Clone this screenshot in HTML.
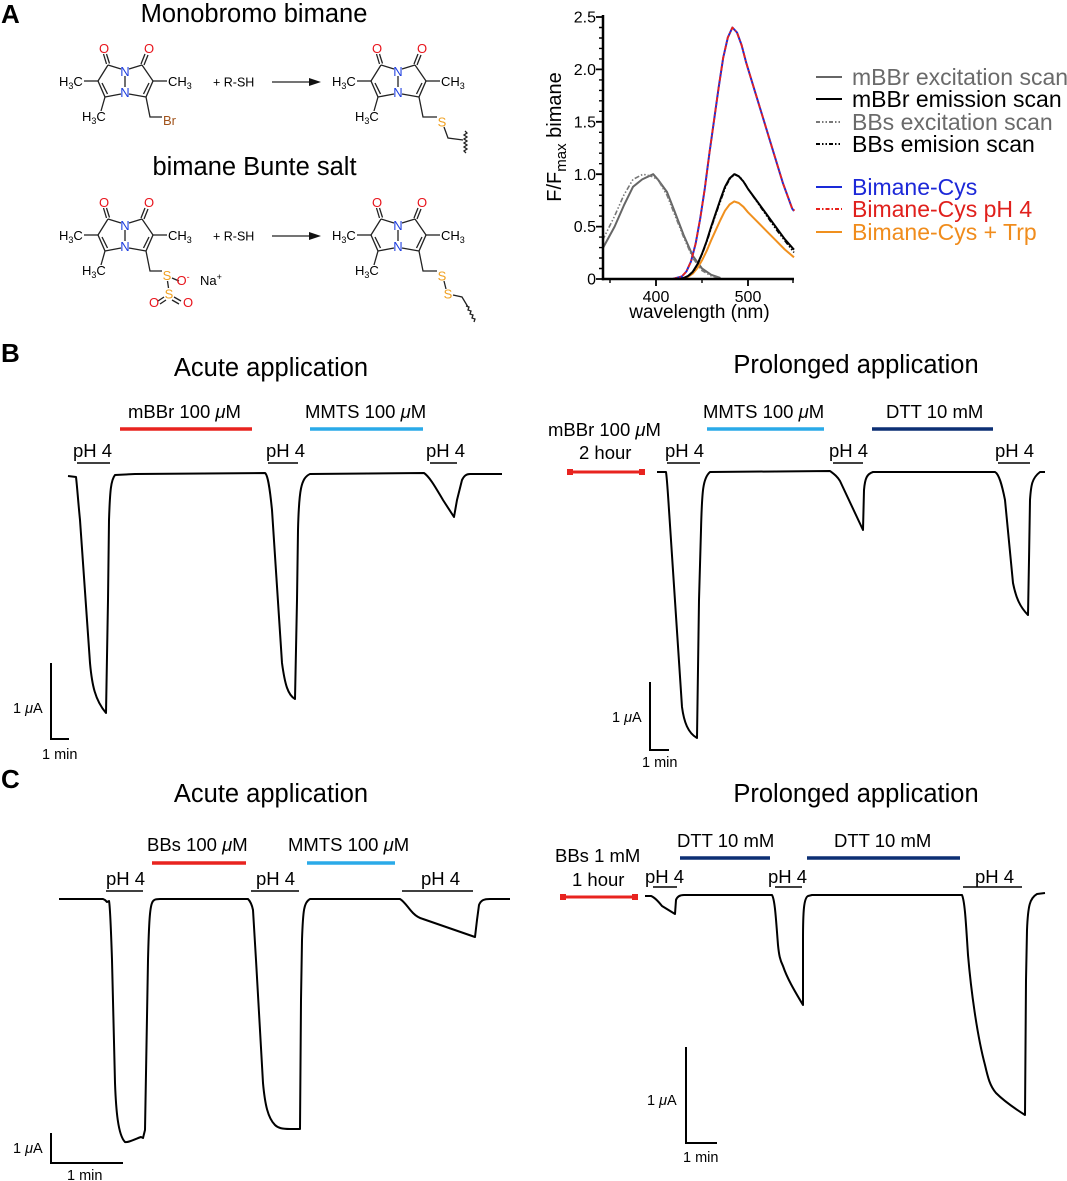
<!DOCTYPE html>
<html><head><meta charset="utf-8"><style>
html,body{margin:0;padding:0;background:#fff;}
svg{display:block;}
text{font-family:"Liberation Sans",Arial,sans-serif;}
</style></head><body>
<svg width="1067" height="1181" viewBox="0 0 1067 1181" xmlns="http://www.w3.org/2000/svg">
<rect width="1067" height="1181" fill="#fff"/>

<!-- Panel letters -->
<text x="1" y="23" font-size="26" font-weight="bold">A</text>
<text x="1" y="362" font-size="26" font-weight="bold">B</text>
<text x="1" y="788" font-size="26" font-weight="bold">C</text>

<!-- ===== Panel A chemistry ===== -->
<text x="254" y="22" font-size="25.5" text-anchor="middle">Monobromo bimane</text>
<text x="254.5" y="175" font-size="25.5" text-anchor="middle">bimane Bunte salt</text>

<g>
<g stroke="#222" stroke-width="1.3" fill="none">
<line x1="125" y1="76" x2="125" y2="87"/>
<line x1="121" y1="69" x2="108" y2="65"/>
<line x1="129" y1="69" x2="142" y2="65"/>
<line x1="108" y1="65" x2="98" y2="81"/>
<line x1="98" y1="81" x2="105" y2="97"/>
<line x1="102" y1="83" x2="107.5" y2="94"/>
<line x1="105" y1="97" x2="121" y2="94"/>
<line x1="142" y1="65" x2="153" y2="81"/>
<line x1="153" y1="81" x2="146" y2="97"/>
<line x1="149" y1="83" x2="143.5" y2="94"/>
<line x1="146" y1="97" x2="129" y2="94"/>
<line x1="106.5" y1="64" x2="103.5" y2="54"/>
<line x1="109.5" y1="63.5" x2="106.5" y2="54"/>
<line x1="141" y1="64" x2="145" y2="54"/>
<line x1="144" y1="65" x2="148" y2="55"/>
<line x1="98" y1="81" x2="84" y2="81"/>
<line x1="153" y1="81" x2="167" y2="81"/>
<line x1="105" y1="97" x2="101" y2="111"/>
</g>
<text x="104" y="53" font-size="13" fill="#e8141c" text-anchor="middle">O</text>
<text x="149" y="53" font-size="13" fill="#e8141c" text-anchor="middle">O</text>
<text x="125" y="76" font-size="13" fill="#1f3fe0" text-anchor="middle">N</text>
<text x="125" y="97" font-size="13" fill="#1f3fe0" text-anchor="middle">N</text>
<text x="59" y="86" font-size="13">H<tspan font-size="9" dy="3">3</tspan><tspan dy="-3">C</tspan></text>
<text x="168" y="86" font-size="13">CH<tspan font-size="9" dy="3">3</tspan></text>
<text x="82" y="121" font-size="13">H<tspan font-size="9" dy="3">3</tspan><tspan dy="-3">C</tspan></text>
</g>

<g transform="translate(273,0)">
<g stroke="#222" stroke-width="1.3" fill="none">
<line x1="125" y1="76" x2="125" y2="87"/>
<line x1="121" y1="69" x2="108" y2="65"/>
<line x1="129" y1="69" x2="142" y2="65"/>
<line x1="108" y1="65" x2="98" y2="81"/>
<line x1="98" y1="81" x2="105" y2="97"/>
<line x1="102" y1="83" x2="107.5" y2="94"/>
<line x1="105" y1="97" x2="121" y2="94"/>
<line x1="142" y1="65" x2="153" y2="81"/>
<line x1="153" y1="81" x2="146" y2="97"/>
<line x1="149" y1="83" x2="143.5" y2="94"/>
<line x1="146" y1="97" x2="129" y2="94"/>
<line x1="106.5" y1="64" x2="103.5" y2="54"/>
<line x1="109.5" y1="63.5" x2="106.5" y2="54"/>
<line x1="141" y1="64" x2="145" y2="54"/>
<line x1="144" y1="65" x2="148" y2="55"/>
<line x1="98" y1="81" x2="84" y2="81"/>
<line x1="153" y1="81" x2="167" y2="81"/>
<line x1="105" y1="97" x2="101" y2="111"/>
</g>
<text x="104" y="53" font-size="13" fill="#e8141c" text-anchor="middle">O</text>
<text x="149" y="53" font-size="13" fill="#e8141c" text-anchor="middle">O</text>
<text x="125" y="76" font-size="13" fill="#1f3fe0" text-anchor="middle">N</text>
<text x="125" y="97" font-size="13" fill="#1f3fe0" text-anchor="middle">N</text>
<text x="59" y="86" font-size="13">H<tspan font-size="9" dy="3">3</tspan><tspan dy="-3">C</tspan></text>
<text x="168" y="86" font-size="13">CH<tspan font-size="9" dy="3">3</tspan></text>
<text x="82" y="121" font-size="13">H<tspan font-size="9" dy="3">3</tspan><tspan dy="-3">C</tspan></text>
</g>

<g transform="translate(0,154)">
<g stroke="#222" stroke-width="1.3" fill="none">
<line x1="125" y1="76" x2="125" y2="87"/>
<line x1="121" y1="69" x2="108" y2="65"/>
<line x1="129" y1="69" x2="142" y2="65"/>
<line x1="108" y1="65" x2="98" y2="81"/>
<line x1="98" y1="81" x2="105" y2="97"/>
<line x1="102" y1="83" x2="107.5" y2="94"/>
<line x1="105" y1="97" x2="121" y2="94"/>
<line x1="142" y1="65" x2="153" y2="81"/>
<line x1="153" y1="81" x2="146" y2="97"/>
<line x1="149" y1="83" x2="143.5" y2="94"/>
<line x1="146" y1="97" x2="129" y2="94"/>
<line x1="106.5" y1="64" x2="103.5" y2="54"/>
<line x1="109.5" y1="63.5" x2="106.5" y2="54"/>
<line x1="141" y1="64" x2="145" y2="54"/>
<line x1="144" y1="65" x2="148" y2="55"/>
<line x1="98" y1="81" x2="84" y2="81"/>
<line x1="153" y1="81" x2="167" y2="81"/>
<line x1="105" y1="97" x2="101" y2="111"/>
</g>
<text x="104" y="53" font-size="13" fill="#e8141c" text-anchor="middle">O</text>
<text x="149" y="53" font-size="13" fill="#e8141c" text-anchor="middle">O</text>
<text x="125" y="76" font-size="13" fill="#1f3fe0" text-anchor="middle">N</text>
<text x="125" y="97" font-size="13" fill="#1f3fe0" text-anchor="middle">N</text>
<text x="59" y="86" font-size="13">H<tspan font-size="9" dy="3">3</tspan><tspan dy="-3">C</tspan></text>
<text x="168" y="86" font-size="13">CH<tspan font-size="9" dy="3">3</tspan></text>
<text x="82" y="121" font-size="13">H<tspan font-size="9" dy="3">3</tspan><tspan dy="-3">C</tspan></text>
</g>

<g transform="translate(273,154)">
<g stroke="#222" stroke-width="1.3" fill="none">
<line x1="125" y1="76" x2="125" y2="87"/>
<line x1="121" y1="69" x2="108" y2="65"/>
<line x1="129" y1="69" x2="142" y2="65"/>
<line x1="108" y1="65" x2="98" y2="81"/>
<line x1="98" y1="81" x2="105" y2="97"/>
<line x1="102" y1="83" x2="107.5" y2="94"/>
<line x1="105" y1="97" x2="121" y2="94"/>
<line x1="142" y1="65" x2="153" y2="81"/>
<line x1="153" y1="81" x2="146" y2="97"/>
<line x1="149" y1="83" x2="143.5" y2="94"/>
<line x1="146" y1="97" x2="129" y2="94"/>
<line x1="106.5" y1="64" x2="103.5" y2="54"/>
<line x1="109.5" y1="63.5" x2="106.5" y2="54"/>
<line x1="141" y1="64" x2="145" y2="54"/>
<line x1="144" y1="65" x2="148" y2="55"/>
<line x1="98" y1="81" x2="84" y2="81"/>
<line x1="153" y1="81" x2="167" y2="81"/>
<line x1="105" y1="97" x2="101" y2="111"/>
</g>
<text x="104" y="53" font-size="13" fill="#e8141c" text-anchor="middle">O</text>
<text x="149" y="53" font-size="13" fill="#e8141c" text-anchor="middle">O</text>
<text x="125" y="76" font-size="13" fill="#1f3fe0" text-anchor="middle">N</text>
<text x="125" y="97" font-size="13" fill="#1f3fe0" text-anchor="middle">N</text>
<text x="59" y="86" font-size="13">H<tspan font-size="9" dy="3">3</tspan><tspan dy="-3">C</tspan></text>
<text x="168" y="86" font-size="13">CH<tspan font-size="9" dy="3">3</tspan></text>
<text x="82" y="121" font-size="13">H<tspan font-size="9" dy="3">3</tspan><tspan dy="-3">C</tspan></text>
</g>

<g stroke="#222" stroke-width="1.3" fill="none">
<polyline points="146,97 150,117 162,117"/>
<polyline points="419,97 423,117 437,117"/>
<polyline points="444,127 448,138 463,140"/>
<path d="M465,131 l2,2 l-3,2 l3,2 l-3,2 l3,2 l-3,2 l3,2 l-3,2 l3,2 l-3,2 l2,2"/>
<polyline points="146,251 150,271 162,271"/>
<line x1="172" y1="278" x2="179" y2="281"/>
<line x1="167.5" y1="281" x2="168.5" y2="288"/>
<line x1="164" y1="297" x2="158" y2="301"/>
<line x1="166" y1="300" x2="160" y2="304"/>
<line x1="174" y1="297" x2="181" y2="301"/>
<line x1="172" y1="300" x2="179" y2="304"/>
<polyline points="419,251 423,271 437,271"/>
<line x1="444" y1="281" x2="446" y2="289"/>
<polyline points="453,295 462,297 468,307"/>
<path d="M466,306 l3,1 l-1,3 l3,1 l-1,3 l3,1 l-1,3 l3,1 l-1,3"/>
</g>
<text x="163" y="125" font-size="13" fill="#a0521a">Br</text>
<text x="442" y="126.5" font-size="13" fill="#f0a020" text-anchor="middle">S</text>
<text x="167" y="280" font-size="13" fill="#f0a020" text-anchor="middle">S</text>
<text x="183" y="285" font-size="13" fill="#e8141c" text-anchor="middle">O<tspan font-size="9" dy="-5">-</tspan></text>
<text x="169" y="298.5" font-size="13" fill="#f0a020" text-anchor="middle">S</text>
<text x="154" y="307" font-size="13" fill="#e8141c" text-anchor="middle">O</text>
<text x="188" y="307" font-size="13" fill="#e8141c" text-anchor="middle">O</text>
<text x="200" y="285" font-size="13">Na<tspan font-size="9" dy="-5">+</tspan></text>
<text x="442" y="280.5" font-size="13" fill="#f0a020" text-anchor="middle">S</text>
<text x="448" y="298.5" font-size="13" fill="#f0a020" text-anchor="middle">S</text>

<text x="213" y="86.5" font-size="12.5">+ R-SH</text>
<text x="213" y="240.5" font-size="12.5">+ R-SH</text>
<line x1="272" y1="82" x2="312" y2="82" stroke="#222" stroke-width="1.3"/>
<polygon points="309,78 321,82 309,86" fill="#111"/>
<line x1="272" y1="236" x2="312" y2="236" stroke="#222" stroke-width="1.3"/>
<polygon points="309,232 321,236 309,240" fill="#111"/>

<!-- ===== Spectrum chart ===== -->
<g fill="none" stroke-linejoin="round">
<polyline stroke="#666" stroke-width="2" points="602.6,248.6 614.6,226.6 623.8,205.6 633,186.8 642.2,179.4 653.2,174.2 657.8,179.4 667,192 674.4,210.9 683.6,235 692.8,255.9 702,268.5 711.2,274.8 720.4,278"/>
<polyline stroke="#777" stroke-width="1.6" stroke-dasharray="5,2,1.5,2,1.5,2" points="602.6,240.2 614.6,216.1 623.8,195.2 633,179.4 643.1,174.2 651.4,176.3 657.8,179.4 667,195.2 674.4,214 683.6,237.1 692.8,258 702,270.6 711.2,275.9 720.4,278.5"/>
<polyline stroke="#f0901e" stroke-width="2" points="666,279 674.4,279 683.6,278.2 688.2,276.7 692.8,273.6 697.4,268.1 702,260.4 706.6,251.1 711.2,240.2 715.8,230.1 720.4,220 725,210.7 729.6,204.5 734.2,201.4 738.8,203 743.4,206.8 748,212.3 757.2,221.6 766.4,230.9 775.6,240.2 784.8,249.5 794,257.3"/>
<polyline stroke="#000" stroke-width="2" points="674.4,279 683.6,278 688.2,275.9 692.8,271.7 697.4,264.3 702,253.8 706.6,241.3 711.2,226.6 715.8,213 720.4,199.4 725,186.8 729.6,178.4 734.2,174.2 738.8,176.3 743.4,181.5 748,188.9 757.2,201.4 766.4,214 775.6,226.6 784.8,239.2 794,249.7"/>
<polyline stroke="#000" stroke-width="1.6" stroke-dasharray="5,2,1.5,2,1.5,2" points="676,279 684.6,278 689.2,275.5 693.8,271 698.4,263 703,252 707.6,239.5 712.2,225 716.8,211.5 721.4,198.5 726,186 730.6,178 735.2,174.2 739.8,176.8 744.4,182.5 749,190.5 758.2,203.5 767.4,217 776.6,230 785.8,242 794,252.5"/>
<polyline stroke="#1a2ad8" stroke-width="2" points="672.6,279 681.8,276.5 686.4,271.5 691,261.4 695.6,243.8 700.2,218.6 704.8,188.5 709.4,153.3 714,120.6 718.6,87.9 723.2,57.7 727.8,37.6 732.4,27.5 737,32.5 741.6,45.1 746.2,62.7 755.4,92.9 764.6,123.1 773.8,153.3 783,183.4 792.2,208.6 794,211"/>
<polyline stroke="#e8201a" stroke-width="1.8" stroke-dasharray="5,2,1.5,2" points="672.6,279 681.8,276.5 686.4,271.5 691,261.4 695.6,243.8 700.2,218.6 704.8,188.5 709.4,153.3 714,120.6 718.6,87.9 723.2,57.7 727.8,37.6 732.4,27.5 737,32.5 741.6,45.1 746.2,62.7 755.4,92.9 764.6,123.1 773.8,153.3 783,183.4 792.2,208.6 795,211"/>
</g>
<g stroke="#000" fill="none">
<line x1="603" y1="15" x2="603" y2="280.2" stroke-width="2.5"/>
<line x1="601.8" y1="279" x2="794" y2="279" stroke-width="2.5"/>
<path stroke-width="1.8" d="M596,279H603M596,226.6H603M596,174.2H603M596,121.8H603M596,69.4H603M596,17H603"/>
<path stroke-width="1.4" d="M599,268.5H603M599,258H603M599,247.6H603M599,237.1H603M599,216.1H603M599,205.6H603M599,195.2H603M599,184.7H603M599,163.7H603M599,153.2H603M599,142.8H603M599,132.3H603M599,111.3H603M599,100.8H603M599,90.4H603M599,79.9H603M599,58.9H603M599,48.4H603M599,38H603M599,27.5H603"/>
<path stroke-width="1.8" d="M656,279V286M748,279V286"/>
<path stroke-width="1.4" d="M610,279V283M702,279V283M793,279V283"/>
</g>
<g font-size="16" text-anchor="end">
<text x="596" y="22.5">2.5</text>
<text x="596" y="75">2.0</text>
<text x="596" y="127.5">1.5</text>
<text x="596" y="180">1.0</text>
<text x="596" y="232">0.5</text>
<text x="596" y="284.5">0</text>
</g>
<text x="656" y="302" font-size="16" text-anchor="middle">400</text>
<text x="748" y="302" font-size="16" text-anchor="middle">500</text>
<text x="699.5" y="318" font-size="19" text-anchor="middle">wavelength (nm)</text>
<text transform="translate(561,137) rotate(-90)" font-size="20" text-anchor="middle">F/F<tspan font-size="15" dy="5">max</tspan><tspan dy="-5"> bimane</tspan></text>

<g stroke-width="2" fill="none">
<line x1="816" y1="77" x2="842" y2="77" stroke="#666"/>
<line x1="816" y1="99" x2="842" y2="99" stroke="#000"/>
<line x1="816" y1="122" x2="842" y2="122" stroke="#777" stroke-dasharray="4,2,1.5,2,1.5,2"/>
<line x1="816" y1="144" x2="842" y2="144" stroke="#000" stroke-dasharray="4,2,1.5,2,1.5,2"/>
<line x1="816" y1="187" x2="842" y2="187" stroke="#1a2ad8"/>
<line x1="816" y1="209" x2="842" y2="209" stroke="#e8201a" stroke-dasharray="4,2,1.5,2"/>
<line x1="816" y1="232" x2="842" y2="232" stroke="#f0901e"/>
</g>
<g font-size="23">
<text x="852" y="85" fill="#6a6a6a">mBBr excitation scan</text>
<text x="852" y="107" fill="#000">mBBr emission scan</text>
<text x="852" y="130" fill="#6a6a6a">BBs excitation scan</text>
<text x="852" y="152" fill="#000">BBs emision scan</text>
<text x="852" y="195" fill="#1c28d8">Bimane-Cys</text>
<text x="852" y="217" fill="#e0201c">Bimane-Cys pH 4</text>
<text x="852" y="240" fill="#f08c1c">Bimane-Cys + Trp</text>
</g>

<!-- ===== Panel B ===== -->
<text x="271" y="376" font-size="25.5" text-anchor="middle">Acute application</text>
<text x="856" y="373" font-size="25.5" text-anchor="middle">Prolonged application</text>

<g font-size="18.5">
<text x="128" y="418">mBBr 100 <tspan font-style="italic">μ</tspan>M</text>
<text x="305" y="418">MMTS 100 <tspan font-style="italic">μ</tspan>M</text>
<text x="73" y="457">pH 4</text>
<text x="266" y="457">pH 4</text>
<text x="426" y="457">pH 4</text>
<text x="548" y="436">mBBr 100 <tspan font-style="italic">μ</tspan>M</text>
<text x="579" y="459">2 hour</text>
<text x="703" y="418">MMTS 100 <tspan font-style="italic">μ</tspan>M</text>
<text x="886" y="418">DTT 10 mM</text>
<text x="665" y="457">pH 4</text>
<text x="829" y="457">pH 4</text>
<text x="995" y="457">pH 4</text>
</g>
<g stroke-width="3.5">
<line x1="120" y1="429" x2="252" y2="429" stroke="#e8231f"/>
<line x1="310" y1="429" x2="423" y2="429" stroke="#2aaae8"/>
<line x1="707" y1="429" x2="824" y2="429" stroke="#2aaae8"/>
<line x1="872" y1="429" x2="993" y2="429" stroke="#0c2f74"/>
<line x1="570" y1="472" x2="642" y2="472" stroke="#e8231f" stroke-width="3"/>
</g>
<rect x="567" y="469" width="6" height="6" fill="#e8231f"/>
<rect x="639" y="469" width="6" height="6" fill="#e8231f"/>
<g stroke="#000" stroke-width="1.6">
<line x1="77" y1="463" x2="110" y2="463"/>
<line x1="268" y1="463" x2="298" y2="463"/>
<line x1="430" y1="463" x2="457" y2="463"/>
<line x1="667" y1="463" x2="700" y2="463"/>
<line x1="833" y1="463" x2="863" y2="463"/>
<line x1="998" y1="463" x2="1030" y2="463"/>
</g>

<g fill="none" stroke="#000" stroke-width="2" stroke-linejoin="round">
<path d="M68,476 L76,477 C77,485 78,500 80,520 L90,663 C92,685 95,700 106,713 L108,600 L109,520 C110,490 111,480 115,475 L135,474 L265,473 C268,475 270,490 272,510 L282,663 C285,685 288,695 295,699 L297,600 L298,530 C299,490 301,478 310,474 L424,473 C430,477 437,490 443,500 L454,517 L457,500 L462,480 C464,476 466,474 470,474 L502,474"/>
<path d="M657,472 L666,472 C667,478 668,495 669,510 L682,707 C684,722 688,733 697,738 L699,600 L701,530 C702,490 703,478 710,472 L830,471 C834,474 837,476 840,481 L863,530 L864,490 C865,478 867,474 873,472 L995,472 C999,474 1002,485 1005,500 L1013,583 C1016,598 1020,607 1028,615 L1029,560 L1030,500 C1031,485 1032,478 1040,472 L1045,472"/>
</g>
<g stroke="#000" stroke-width="2" fill="none">
<polyline points="51,663 51,739 69,739"/>
<polyline points="650,682 650,750 669,750"/>
</g>
<g font-size="14.5">
<text x="13" y="713">1 <tspan font-style="italic">μ</tspan>A</text>
<text x="42" y="759">1 min</text>
<text x="612" y="722">1 <tspan font-style="italic">μ</tspan>A</text>
<text x="642" y="767">1 min</text>
</g>

<!-- ===== Panel C ===== -->
<text x="271" y="802" font-size="25.5" text-anchor="middle">Acute application</text>
<text x="856" y="802" font-size="25.5" text-anchor="middle">Prolonged application</text>

<g font-size="18.5">
<text x="147" y="851">BBs 100 <tspan font-style="italic">μ</tspan>M</text>
<text x="288" y="851">MMTS 100 <tspan font-style="italic">μ</tspan>M</text>
<text x="106" y="885">pH 4</text>
<text x="256" y="885">pH 4</text>
<text x="421" y="885">pH 4</text>
<text x="677" y="847">DTT 10 mM</text>
<text x="834" y="847">DTT 10 mM</text>
<text x="555" y="862">BBs 1 mM</text>
<text x="572" y="886">1 hour</text>
<text x="645" y="883">pH 4</text>
<text x="768" y="883">pH 4</text>
<text x="975" y="883">pH 4</text>
</g>
<g stroke-width="3.5">
<line x1="152" y1="863" x2="246" y2="863" stroke="#e8231f"/>
<line x1="307" y1="863" x2="395" y2="863" stroke="#2aaae8"/>
<line x1="680" y1="858" x2="770" y2="858" stroke="#0c2f74"/>
<line x1="807" y1="858" x2="960" y2="858" stroke="#0c2f74"/>
<line x1="563" y1="897" x2="635" y2="897" stroke="#e8231f" stroke-width="3"/>
</g>
<rect x="560" y="894" width="6" height="6" fill="#e8231f"/>
<rect x="632" y="894" width="6" height="6" fill="#e8231f"/>
<g stroke="#000" stroke-width="1.6">
<line x1="106" y1="891" x2="143" y2="891"/>
<line x1="251" y1="891" x2="299" y2="891"/>
<line x1="402" y1="891" x2="473" y2="891"/>
<line x1="653" y1="887" x2="677" y2="887"/>
<line x1="775" y1="887" x2="802" y2="887"/>
<line x1="963" y1="887" x2="1022" y2="887"/>
</g>

<g fill="none" stroke="#000" stroke-width="2" stroke-linejoin="round">
<path d="M59,899 L103,899 L105,900 L107,902 L109,901 C110,905 111,930 112,960 L115,1083 C116,1110 118,1135 125,1142 C128,1143 135,1139 141,1137 L143,1138 L145,1130 L148,960 C149,920 150,908 152,903 C153,900 155,899 160,899 L248,899 C250,901 252,905 253,910 L256,960 L263,1083 C265,1105 268,1118 275,1125 C278,1128 282,1129 290,1129 L300,1129 L301,1000 L302,940 C303,910 304,902 310,899 L400,899 C405,902 408,908 413,913 C416,916 419,918 423,919 L475,937 L477,920 L479,905 C481,900 484,899 490,899 L510,899"/>
<path d="M645,896 L651,896 C654,897 658,901 662,906 L675,914 L676,900 C677,897 679,895 684,895 L772,895 C775,900 776,920 778,945 C779,955 780,960 783,966 C787,978 794,990 803,1005 L803,940 C803,910 804,898 808,896 L812,895 L962,895 C965,902 966,925 968,955 C971,990 977,1035 985,1065 C988,1078 990,1086 996,1093 C1004,1101 1014,1108 1025,1115 L1026,980 L1027,930 C1028,905 1030,898 1037,894 L1045,893"/>
</g>
<g stroke="#000" stroke-width="2" fill="none">
<polyline points="51,1133 51,1163 123,1163"/>
<polyline points="686,1047 686,1143 717,1143"/>
</g>
<g font-size="14.5">
<text x="13" y="1153">1 <tspan font-style="italic">μ</tspan>A</text>
<text x="67" y="1180">1 min</text>
<text x="647" y="1105">1 <tspan font-style="italic">μ</tspan>A</text>
<text x="683" y="1162">1 min</text>
</g>
</svg>
</body></html>
